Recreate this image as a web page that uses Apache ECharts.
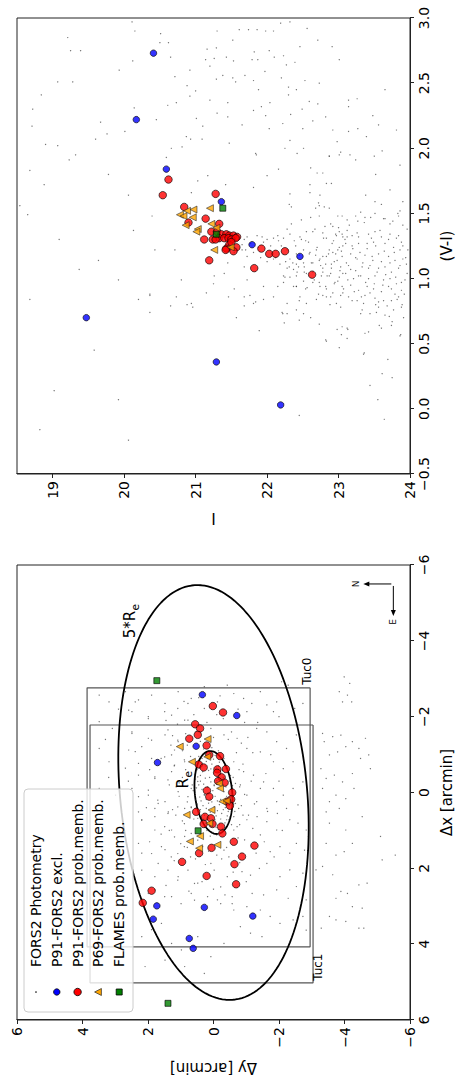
<!DOCTYPE html>
<html>
<head>
<meta charset="utf-8">
<script src="https://cdn.jsdelivr.net/npm/echarts@6.0.0/dist/echarts.min.js"></script>
<style>
  html, body { margin: 0; padding: 0; width: 459px; height: 1084px; overflow: hidden; background: #fff; }
  /* the figure is laid out landscape and turned a quarter turn counter-clockwise */
  #chart { position: absolute; left: 0; top: 0; width: 1084px; height: 459px;
           transform-origin: 0 0; transform: translateY(1084px) rotate(-90deg); }
</style>
</head>
<body>
<div id="chart"></div>
<script>
// ---------------- sky map: entries are [Δy, Δx] in arcmin ----------------
const mapPhot = [
  [-3.99,-3.05],[-4.16,-2.88],[-3.84,-2.66],[-4.09,-2.57],[-4.22,-2.39],[-3.94,-2.39],[-3.33,-1.56],[-3.38,-1.34],[-3.64,-1.47],[-3.89,-1.51],
  [-3.54,-0.99],[-3.79,-1.07],[-4.04,-1.21],[-4.24,-1.34],[-4.44,-1.16],[-4.64,-1.43],[-4.74,-0.99],[-4.49,-0.90],[-4.79,-0.63],[-3.28,-0.63],
  [-3.44,-0.37],[-3.69,-0.46],[-3.94,-0.28],[-4.24,-0.50],[-3.33,-0.11],[-3.54,0.24],[-3.74,0.07],[-4.04,0.16],[-4.29,-0.11],[-3.44,0.51],[-3.84,0.42],
  [-3.54,0.81],[-4.04,0.99],[-4.54,0.64],[-4.24,1.34],[-3.99,1.56],[-3.74,1.65],[-3.44,1.34],[-3.33,1.95],[-3.13,2.04],[-3.64,2.17],
  [-3.89,2.61],[-4.09,2.66],[-4.44,2.44],[-4.69,2.39],[-3.74,2.79],[-4.24,3.01],[-4.54,3.05],[-3.54,3.27],[-3.74,3.36],[-4.04,3.40],
  [-3.29,3.58],[-4.44,3.58],[-4.59,3.58],[-5.15,1.78],[-5.55,1.65],[-5.10,1.16],
  [-0.92,-2.48],[-1.17,-2.35],[-1.43,-2.66],[-1.63,-2.31],[-1.93,-2.39],[-2.08,-2.92],[-2.28,-2.83],[-1.83,-2.13],[-2.48,-2.22],[-2.73,-2.35],
  [-1.02,-2.13],[-1.32,-1.69],[-1.63,-1.60],[-1.93,-1.34],[-2.23,-1.16],[-2.53,-1.52],[-2.73,-0.99],[-2.43,-0.81],[-2.13,-0.63],[-1.83,-0.81],
  [-1.43,-1.07],[-1.02,-1.16],[-0.72,-1.43],[-0.62,-0.81],[-0.92,-0.55],[-1.22,-0.46],[-1.53,-0.28],[-1.83,-0.11],[-2.13,0.07],[-2.43,-0.11],
  [-2.73,-0.28],[-2.58,0.33],[-2.23,0.42],[-1.93,0.24],[-1.63,0.42],[-1.32,0.24],[-1.02,0.07],[-0.82,-0.20],[-0.77,0.42],[-1.07,0.60],[-1.43,-0.11],
  [-0.47,0.72],[-0.72,0.90],[-1.02,0.72],[-1.33,0.64],[-1.63,0.77],[-1.93,0.99],[-2.33,0.72],[-2.58,0.81],[-2.83,0.99],[-1.43,1.12],
  [-1.73,1.56],[-2.03,1.43],[-2.33,1.60],[-2.53,1.34],[-2.78,1.52],[-1.63,1.87],[-2.03,2.22],[-2.33,2.04],[-2.73,2.13],[-2.53,2.48],
  [-2.28,2.79],[-1.93,2.57],[-1.53,2.70],[-1.18,2.66],[-1.02,3.01],[-1.43,3.10],[-1.73,3.27],[-2.03,3.45],[-2.43,3.36],[-2.73,3.27],
  [-2.83,2.83],[-1.48,3.80],[-1.13,3.71],[-0.82,3.54],[-0.62,3.10],[-0.57,2.75],[-0.87,2.09],[-1.13,2.18],[-2.83,3.63],
  [3.49,-2.57],[3.19,-2.39],[2.69,-2.66],[2.39,-2.39],[1.89,-2.57],[1.48,-2.35],[1.08,-2.66],[0.68,-2.48],[0.28,-2.22],[-0.12,-2.39],
  [2.49,-2.13],[1.99,-1.95],[1.28,-2.04],[0.88,-1.91],[3.49,-1.87],[3.09,-1.69],[2.49,-1.60],[1.99,-1.43],[1.48,-1.52],[1.08,-1.34],
  [2.39,-1.08],[1.89,-0.90],[1.28,-0.99],[0.88,-0.81],[3.49,-1.16],[3.19,-0.81],[2.69,-0.64],[2.29,-0.46],[1.79,-0.37],[1.28,-0.55],
  [0.88,-0.29],[3.49,-0.11],[2.99,0.07],[2.49,-0.11],[1.99,0.07],[1.48,0.24],[1.08,-0.02],[0.68,-0.11],[0.48,-0.29],[0.28,0.07],
  [-0.02,-0.20],[-0.32,-0.90],[0.08,-1.69],[-0.32,-1.52],[1.79,0.42],[2.29,0.51],[1.38,0.51],[0.88,0.42],
  [2.29,0.11],[1.99,-0.06],[1.69,0.29],[1.39,0.55],[1.09,0.38],[2.19,0.73],[1.79,0.99],[1.49,0.90],[1.19,1.17],[2.29,1.34],
  [1.89,1.61],[1.59,1.43],[1.29,1.70],[2.19,2.05],[1.79,2.22],[1.39,2.05],[1.09,2.31],[0.78,2.05],[0.58,2.40],[1.99,2.66],
  [1.49,2.75],[0.99,2.93],[0.58,2.84],[-0.02,2.05],[-0.22,2.49],[-0.42,2.22],[0.18,2.75],[-0.22,2.93],[-0.57,2.93],[1.14,-0.15],
  [0.78,-0.19],[0.48,-0.41],[1.79,-0.41],[1.39,-0.33],[0.78,0.11],[0.68,0.38],[0.89,0.82],[0.68,1.08],[0.48,1.26],[0.33,1.43],
  [0.89,1.43],[1.09,1.61],[-0.32,1.52],[-0.47,1.70],[-0.62,0.99],[-0.62,0.64],[-0.67,0.29],[-0.67,-0.24],
  [2.59,-2.17],[2.29,-2.44],[1.99,-2.00],[1.49,-2.13],[1.09,-2.22],[0.78,-2.35],[0.28,-2.79],[-0.42,-2.83],[-0.62,-2.61],[2.49,-1.56],
  [2.19,-1.21],[1.89,-1.38],[1.39,-1.65],[1.09,-1.38],[2.59,-1.12],[1.49,-0.94],[1.19,-1.12],[0.78,-1.91],[2.29,-0.77],[1.19,-0.72],[0.89,-0.86],
  [2.19,3.80],[1.89,3.62],[1.59,3.45],[1.28,3.98],[0.98,4.15],[0.48,3.80],[0.08,4.33],[-0.32,3.98],[1.48,4.42],[0.88,4.59],[0.28,4.77],[2.09,4.59],
  [2.19,0.72],[1.79,0.64],[1.28,0.99],[0.88,1.16],[1.48,1.51],[1.08,2.22],[1.79,2.57],[1.28,2.75],[0.68,2.66],[0.48,2.39],[0.08,1.87],[-0.12,2.83],[1.69,1.87],[2.19,1.60],
  [0.45,-0.95],[0.30,-1.02],[0.12,-1.05],[-0.05,-0.98],[-0.22,-0.90],[0.38,-0.78],[0.22,-0.82],[0.05,-0.75],[-0.15,-0.70],[-0.35,-0.72],
  [0.50,-0.60],[0.33,-0.55],[0.15,-0.58],[-0.02,-0.52],[-0.20,-0.48],[-0.42,-0.55],[0.55,-0.35],[0.40,-0.30],[0.25,-0.38],[0.08,-0.28],
  [-0.10,-0.32],[-0.28,-0.22],[-0.48,-0.30],[0.52,-0.12],[0.35,-0.08],[0.18,-0.15],[0.02,-0.05],[-0.15,-0.10],[-0.32,-0.02],[-0.52,-0.08],
  [0.58,0.08],[0.42,0.12],[0.28,0.05],[0.10,0.15],[-0.05,0.10],[-0.22,0.18],[-0.40,0.10],[-0.58,0.15],[0.50,0.30],[0.32,0.35],
  [0.15,0.28],[-0.02,0.38],[-0.18,0.32],[-0.36,0.40],[-0.50,0.35],[0.45,0.55],[0.28,0.60],[0.10,0.52],[-0.08,0.62],[-0.25,0.55],
  [-0.42,0.62],[0.35,0.78],[0.18,0.82],[0.00,0.75],[-0.18,0.85],[-0.35,0.80],[0.20,1.00],[0.02,1.05],[-0.15,0.98],[0.40,-0.45],
  [-0.30,-0.40],[0.65,-0.20],[0.68,0.40],[-0.65,0.50],[-0.60,-0.40],[0.60,0.70],[-0.55,0.85],
  [1.10,-1.80],[0.85,-1.55],[1.30,-1.25],[0.95,-1.10],[1.20,-0.70],[0.95,-0.40],[1.35,-0.20],[1.05,0.10],[1.25,0.45],[0.95,0.75],
  [1.35,1.00],[1.00,1.35],[-0.95,-1.85],[-0.85,-1.30],[-1.20,-1.05],[-0.90,-0.75],[-1.15,-0.30],[-0.95,0.05],[-1.25,0.30],[-0.90,0.60],
  [-1.20,0.95],[-0.95,1.25],[-1.30,1.60],[-0.80,1.85],[0.60,-2.05],[0.20,-1.85],[-0.30,-1.95],[-0.55,-1.60],[0.70,1.70],[0.25,1.90],
  [-0.25,1.75],[-0.60,2.10],[1.60,-0.90],[1.70,0.20],[1.60,1.10],[-1.60,-0.50],[-1.65,0.50],[-1.55,1.30],
  [0.52,-0.80],[0.35,-0.90],[0.18,-0.92],[0.00,-0.88],[-0.18,-0.80],[-0.38,-0.62],[0.58,-0.48],[0.42,-0.65],[0.25,-0.70],[0.08,-0.62],
  [-0.08,-0.65],[-0.28,-0.58],[-0.52,-0.45],[0.62,-0.05],[0.45,-0.20],[0.30,-0.22],[0.12,-0.40],[-0.02,-0.18],[-0.20,-0.25],[-0.38,-0.15],
  [-0.58,-0.18],[0.55,0.20],[0.38,0.22],[0.22,0.18],[0.05,0.25],[-0.12,0.22],[-0.30,0.28],[-0.48,0.22],[-0.62,0.30],[0.55,0.42],
  [0.40,0.45],[0.22,0.42],[0.05,0.45],[-0.12,0.48],[-0.30,0.45],[-0.45,0.50],[0.48,0.68],[0.30,0.70],[0.12,0.68],[-0.05,0.72],
  [-0.22,0.70],[-0.40,0.72],[0.28,0.92],[0.10,0.90],[-0.08,0.92],[-0.28,0.95],[0.10,1.15],[-0.10,1.12],[0.30,-1.15],[0.05,-1.18],[-0.15,-1.10],
  [0.90,-2.40],[0.45,-2.50],[-0.20,-2.55],[-0.75,-2.20],[1.45,-1.90],[1.25,-1.50],[0.80,-1.25],[0.70,-0.95],[0.85,-0.60],[1.05,-0.25],
  [0.80,0.25],[1.15,0.60],[0.85,1.00],[0.80,1.45],[1.20,1.80],[0.55,1.75],[0.15,1.55],[-0.10,1.65],[-0.40,1.45],[-0.75,1.20],
  [-0.80,0.85],[-0.85,0.35],[-0.80,-0.15],[-0.78,-0.60],[-0.70,-1.05],[-1.05,-1.45],[-0.45,-1.40],[0.00,-1.45],[0.40,-1.35],[0.55,-1.60],
  [-0.10,-2.05],[0.35,2.35],[0.00,2.55],[-0.35,2.70],[0.75,2.60],[1.45,2.45],[-1.00,2.35],[-1.40,2.00],[-1.85,1.70],[-2.10,1.00],
  [-1.95,0.55],[-2.00,-0.30],[-1.75,-1.00],[-1.35,-1.85],[-2.00,-2.00],[1.95,-0.60],[2.05,0.40],[1.95,1.30],[2.60,-0.30],[2.80,0.60],
  [3.20,-0.40],[3.30,-1.40],[2.90,-2.20]
];
const mapExcl = [[0.34,-2.58],[-0.71,-2.03],[0.53,-1.22],[1.71,-0.79],[1.73,2.99],[1.84,3.34],[0.28,3.03],[0.74,3.85],[0.62,4.11],[-1.20,3.26]];
const mapP91 = [
  [0.02,-2.28],[-0.29,-2.11],[0.56,-1.80],[0.41,-1.69],[0.74,-1.42],[0.48,-1.52],[0.21,-1.24],[-0.20,-0.96],[0.13,-0.99],[0.45,-0.74],
  [0.30,-0.66],[-0.12,-0.61],[-0.38,-0.62],[-0.11,-0.52],[-0.25,-0.40],[-0.14,-0.30],[-0.34,-0.26],[0.20,-0.05],[0.13,0.11],[-0.57,0.00],
  [-0.54,0.18],[-0.42,0.24],[-0.50,0.35],[0.53,0.51],[0.26,0.64],[0.08,0.68],[0.30,0.83],[0.03,0.83],[-0.23,0.90],[-0.27,1.08],
  [-0.62,1.30],[0.06,1.46],[0.44,1.60],[0.96,1.83],[-0.64,1.89],[0.21,2.20],[-0.69,2.42],[1.89,2.59],[2.16,2.91],[-1.25,1.40],[-0.87,1.69]
];
const mapP69 = [[0.18,-1.41],[1.03,-1.21],[0.66,-0.81],[0.19,-0.94],[-0.17,-0.24],[-0.20,-0.11],[-0.27,0.24],[-0.40,0.22],[0.06,0.46],[0.82,0.59],[0.13,0.81],[0.41,1.15],[0.72,1.29],[-0.12,1.38],[0.44,1.47]];
const mapFlames = [[1.73,-2.95],[0.47,1.01],[1.39,5.56]];

// FORS2 pointings (Δx and Δy extents, arcmin)
const fieldNames = ['Tuc0', 'Tuc1'];
const fieldDx = [[-2.76, 4.07], [-1.78, 5.02]];
const fieldDy = [[-2.95, 3.86], [-3.04, 3.77]];

// half-light ellipse: semi-major, semi-minor (arcmin), tilt of major axis from Δx toward Δy (deg)
const reEllipse = [1.1, 0.57, -7];
const reMultiples = [1, 5];

// ---------------- colour-magnitude diagram: entries are [I, V-I] ----------------
const cmdPhot = [
  [20.11,2.97],[20.15,2.90],[20.51,2.88],[20.50,2.81],[20.62,2.81],[19.21,2.85],[19.25,2.75],[19.39,2.75],[20.12,2.67],[20.65,2.70],
  [19.93,2.60],[20.71,2.55],[20.92,2.60],[21.20,2.63],[21.16,2.76],[21.29,2.77],[21.30,2.90],[21.52,2.83],[21.61,2.91],[21.74,2.91],
  [21.86,2.91],[21.98,2.90],[22.09,2.90],[22.19,2.96],[22.32,2.97],[22.56,2.92],[22.71,2.83],[22.91,2.78],[22.46,2.78],[21.82,2.74],
  [22.03,2.75],[22.23,2.71],[22.39,2.66],[22.27,2.64],[22.10,2.70],[21.87,2.68],[21.79,2.68],[21.53,2.67],[21.43,2.70],[21.26,2.69],
  [21.14,2.68],[20.88,2.48],[20.92,2.40],[21.00,2.44],[21.29,2.53],[21.38,2.56],[21.52,2.54],[21.56,2.51],[21.69,2.56],[21.81,2.52],
  [21.88,2.45],[21.97,2.59],[22.20,2.54],[22.30,2.47],[22.53,2.52],[22.73,2.50],[23.01,2.68],[23.65,2.45],[23.26,2.38],[23.14,2.37],
  [23.14,2.32],[22.59,2.36],[22.71,2.34],[22.49,2.30],[22.41,2.45],[22.30,2.41],[22.04,2.35],[21.92,2.32],[21.45,2.35],[21.20,2.37],
  [21.01,2.23],[21.10,2.17],[21.30,2.27],[21.45,2.24],[21.65,2.18],[21.81,2.29],[21.98,2.25],[22.22,2.19],[22.33,2.26],[22.50,2.15],
  [22.64,2.21],[22.82,2.24],[22.92,2.14],[23.14,2.13],[23.27,2.15],[23.48,2.25],[23.56,2.18],[23.81,2.14],[23.39,2.09],[23.61,1.98],
  [23.50,1.94],[23.16,1.95],[22.98,2.05],[23.01,1.95],[22.87,1.94],[22.51,2.00],[22.32,2.06],[22.25,2.00],[22.03,2.15],[21.85,1.95],
  [21.47,2.04],[21.09,2.07],[20.93,2.07],[20.87,2.09],[20.81,2.01],[20.66,2.00],[20.45,2.22],[20.14,2.31],[19.76,2.11],[20.01,2.13],
  [19.67,2.20],[19.60,2.07],[19.32,1.95],[19.07,2.02],[18.90,2.03],[18.71,2.17],[18.72,2.30],[18.84,2.41],[19.07,2.51],[19.28,2.51],
  [20.73,2.35],[20.61,2.33],
  [20.59,1.93],[21.84,1.96],[22.42,1.96],[22.87,1.94],[23.03,1.97],[22.61,1.85],[22.70,1.81],[22.78,1.81],[22.90,1.73],[22.83,1.73],
  [22.74,1.64],[22.72,1.58],[22.60,1.66],[22.32,1.65],[22.34,1.55],[22.28,1.38],[22.68,1.54],[22.87,1.54],[22.99,1.48],[22.92,1.40],
  [23.01,1.36],[23.06,1.32],[22.83,1.31],[22.78,1.35],[22.67,1.38],[22.55,1.36],[22.46,1.32],[22.40,1.25],[22.32,1.34],[22.23,1.31],
  [22.16,1.29],[22.09,1.31],[22.00,1.30],[21.93,1.32],[21.86,1.33],[21.72,1.32],[21.68,1.30],[21.65,1.26],[21.65,1.22],[21.54,1.20],
  [21.72,1.17],[21.81,1.20],[21.91,1.16],[22.00,1.13],[22.09,1.15],[22.18,1.11],[22.28,1.08],[22.37,1.07],[22.44,1.09],[22.51,1.12],
  [22.55,1.04],[22.64,1.12],[22.74,1.15],[22.83,1.17],[22.92,1.20],[22.99,1.22],[23.06,1.25],[22.69,1.22],[22.60,1.20],[22.51,1.22],
  [22.32,1.15],[22.23,1.02],[22.32,1.01],[22.51,0.98],[22.64,0.97],[22.74,0.94],[22.83,0.92],[22.92,0.89],[22.99,0.98],[23.06,1.04],
  [22.87,1.02],[22.76,1.02],[22.90,1.11],[22.78,1.08],[22.37,0.94],[22.23,0.97],[21.95,0.94],[21.72,0.99],[21.68,1.09],[21.45,1.12],
  [21.40,1.04],[21.54,0.92],[21.68,0.86],[21.81,0.81],[21.95,0.84],[22.09,0.86],[22.28,0.81],[22.46,0.86],[22.55,0.81],[22.69,0.84],
  [22.83,0.86],[22.97,0.81],[23.06,0.89],[20.94,1.66],[21.03,1.75],[21.17,1.79],[21.42,1.72],[21.81,1.70],[22.00,1.79],[22.16,1.84],
  [22.60,1.72],[20.43,1.22],[20.39,1.48],[20.71,1.22],[20.80,0.99],[20.94,0.81],[21.15,0.89],[21.26,1.02],[20.36,0.88],
  [22.31,1.57],[22.73,1.56],[22.80,1.55],[23.51,1.59],[23.60,1.57],[23.86,1.52],[23.90,1.59],[22.34,1.42],[22.48,1.45],[22.61,1.47],
  [22.73,1.48],[22.89,1.42],[23.05,1.48],[23.12,1.45],[23.24,1.48],[23.31,1.51],[23.37,1.47],[23.51,1.50],[23.65,1.46],[23.72,1.42],
  [23.84,1.48],[23.90,1.41],[22.96,1.34],[23.05,1.34],[23.12,1.32],[23.19,1.33],[23.28,1.32],[23.42,1.34],[23.51,1.36],[23.60,1.32],
  [23.72,1.34],[23.81,1.31],[23.88,1.28],[22.91,1.27],[23.01,1.24],[23.10,1.27],[23.19,1.25],[23.28,1.27],[23.40,1.27],[23.49,1.28],
  [23.65,1.27],[23.77,1.24],[23.86,1.22],[22.59,1.19],[22.68,1.18],[22.78,1.17],[22.87,1.22],[22.96,1.19],[23.05,1.17],[23.17,1.19],
  [23.26,1.15],[23.37,1.18],[23.47,1.17],[23.56,1.19],[23.70,1.17],[23.79,1.14],[23.90,1.15],[22.31,1.09],[22.41,1.11],[22.52,1.09],
  [22.73,1.14],[22.82,1.11],[22.94,1.13],[23.03,1.09],[23.14,1.10],[23.24,1.06],[23.33,1.09],[23.44,1.10],[23.56,1.08],[23.65,1.09],
  [23.74,1.05],[23.84,1.08],[23.95,1.11],[22.25,1.01],[22.41,1.02],[22.64,1.05],[22.78,1.05],[22.89,1.04],[23.01,1.01],[23.10,1.04],
  [23.21,1.00],[23.31,1.02],[23.42,1.00],[23.51,1.02],[23.63,0.99],[23.72,1.00],[23.81,0.96],[23.93,0.99],[22.73,0.97],[22.82,0.94],
  [22.94,0.96],[23.05,0.94],[23.17,0.95],[23.28,0.91],[23.40,0.94],[23.49,0.92],[23.60,0.90],[23.70,0.94],[23.79,0.88],[23.88,0.91],
  [22.41,0.94],[22.54,0.92],[22.78,0.87],[22.89,0.86],[23.03,0.87],[23.14,0.86],[23.26,0.83],[23.37,0.87],[23.51,0.85],[23.63,0.83],
  [23.74,0.83],[23.84,0.86],[23.33,0.76],[23.44,0.73],[23.56,0.78],[23.65,0.72],[23.77,0.76],[23.88,0.78],[22.45,0.83],[22.41,0.76],
  [22.22,0.73],[22.61,0.70],[22.73,0.65],[23.05,0.63],[23.12,0.62],[22.82,0.53],[23.01,0.47],[23.37,0.58],[23.60,0.62],[23.74,0.64],
  [23.86,0.56],[23.35,0.42],[22.41,1.19],[22.22,1.19],[22.38,1.29],[22.54,1.29],[23.97,1.22],[23.96,1.04],
  [20.36,0.87],[20.36,0.74],[20.73,0.86],[20.65,0.79],[20.88,0.80],[20.96,0.78],[21.25,0.96],[21.46,0.86],[21.57,0.70],[21.68,0.79],
  [21.76,0.87],[21.84,0.82],[21.89,0.60],[22.15,0.94],[22.21,0.74],[22.24,0.66],[22.28,0.73],[22.41,0.94],[22.45,0.68],[22.51,0.73],
  [22.83,0.52],[22.98,0.61],[23.04,0.57],[23.12,0.54],[23.13,0.61],[23.36,0.43],[23.42,0.59],[23.44,0.18],[23.55,0.07],[23.61,0.27],
  [23.64,-0.08],[23.69,0.38],[23.75,0.24],[23.87,0.57],[22.45,-0.05],[23.31,0.73],[23.52,0.80],[23.57,0.64],[23.75,0.67],[23.89,0.80],
  [18.54,1.56],[18.65,1.49],[18.88,1.72],[19.09,1.30],[19.37,1.07],[18.68,0.84],[19.64,1.14],[19.92,0.99],[20.13,1.37],[20.20,0.84],
  [19.58,0.45],[19.02,0.14],[19.92,0.07],[18.82,-0.16],[20.06,-0.24],[18.68,1.83],[19.23,1.91],[19.78,1.80],[20.06,1.64],
  [23.24,1.91],[23.52,1.80],[23.72,1.68],[23.86,1.87],[23.38,1.64],
  [22.45,1.18],[22.52,1.05],[22.58,1.28],[22.62,1.12],[22.66,0.99],[22.70,1.24],[22.75,1.10],[22.79,1.31],[22.84,1.02],[22.86,1.19],
  [22.90,1.08],[22.93,1.29],[22.95,0.97],[22.98,1.14],[23.00,1.39],[23.02,1.06],[23.04,1.21],[23.07,0.92],[23.09,1.30],[23.11,1.12],
  [23.13,0.99],[23.15,1.41],[23.17,1.07],[23.20,1.23],[23.22,0.90],[23.24,1.16],[23.26,1.35],[23.28,1.02],[23.30,1.20],[23.32,0.86],
  [23.34,1.12],[23.36,1.43],[23.38,0.97],[23.40,1.23],[23.42,1.08],[23.44,0.89],[23.46,1.31],[23.48,1.14],[23.50,0.96],[23.52,1.25],
  [23.54,1.05],[23.56,0.82],[23.58,1.37],[23.60,1.13],[23.62,0.95],[23.64,1.21],[23.66,1.03],[23.68,0.79],[23.70,1.30],[23.72,1.12],
  [23.74,0.92],[23.76,1.44],[23.78,1.20],[23.80,1.01],[23.82,0.84],[23.84,1.33],[23.86,1.10],[23.88,0.97],[23.90,1.25],[23.92,0.88],
  [23.94,1.16],[23.96,1.38],[22.48,1.30],[22.56,0.93],[22.64,1.36],[22.72,0.88],[22.81,1.40],[22.88,0.80],[22.97,1.33],[23.03,0.78],
  [23.12,1.37],[23.19,0.83],[23.27,1.44],[23.35,0.81],[23.45,1.47],[23.53,0.74],[23.63,1.46],[23.71,0.71],[23.83,1.50],[23.91,0.70],
  [22.20,1.25],[22.28,1.22],[22.36,1.12],[22.42,1.05],[22.15,1.33],[22.05,1.25],[21.95,1.28],[21.88,1.24],[21.77,1.27],[21.70,1.22],
  [22.12,1.16],[22.26,1.13]
];
const cmdExcl = [[20.41,2.73],[20.17,2.22],[20.59,1.84],[21.36,1.59],[21.79,1.26],[22.46,1.17],[19.47,0.70],[21.29,0.36],[22.19,0.03]];
const cmdP91 = [
  [20.62,1.76],[20.54,1.64],[21.28,1.65],[20.84,1.55],[20.90,1.43],[21.14,1.46],[21.33,1.42],[21.22,1.36],[21.30,1.36],[21.36,1.34],
  [21.43,1.34],[21.47,1.33],[21.53,1.33],[21.58,1.32],[21.33,1.31],[21.40,1.31],[21.46,1.31],[21.24,1.30],[21.12,1.30],[21.28,1.30],
  [21.50,1.30],[21.56,1.31],[21.47,1.26],[21.50,1.28],[21.43,1.23],[21.57,1.24],[21.42,1.22],[21.53,1.21],[21.92,1.23],[22.03,1.19],
  [22.12,1.19],[22.25,1.21],[21.19,1.14],[21.82,1.08],[22.63,1.03]
];
const cmdP69 = [[20.78,1.49],[20.88,1.52],[20.97,1.53],[20.83,1.48],[20.96,1.47],[20.86,1.41],[21.03,1.38],[21.01,1.36],[21.20,1.54],[21.22,1.42],[21.29,1.39],[21.26,1.22],[21.49,1.24]];
const cmdFlames = [[21.38,1.54],[21.29,1.34]];

// tick values
const offsetTicks = [-6, -4, -2, 0, 2, 4, 6];
const colourTicks = [-0.5, 0, 0.5, 1, 1.5, 2, 2.5, 3];
const magTicks = [19, 20, 21, 22, 23, 24];

const seriesNames = ['FORS2 Photometry', 'P91-FORS2 excl.', 'P91-FORS2 prob.memb.', 'P69-FORS2 prob.memb.', 'FLAMES prob.memb.'];

// ------------------------------------------------------------------
const FONT = 'DejaVu Sans';
const INK = '#222';
const uminus = s => String(s).replace('-', '\u2212');

function ellipsePoints(a, b, tiltDeg, n) {
  const th = tiltDeg * Math.PI / 180;
  const pts = [];
  for (let i = 0; i <= n; i++) {
    const t = 2 * Math.PI * i / n;
    const dx = a * Math.cos(t) * Math.cos(th) - b * Math.sin(t) * Math.sin(th);
    const dy = a * Math.cos(t) * Math.sin(th) + b * Math.sin(t) * Math.cos(th);
    pts.push([dy, dx]);
  }
  return pts;
}

const styles = [
  { symbol: 'circle', symbolSize: 1.3, itemStyle: { color: '#333', opacity: 0.7 } },
  { symbol: 'circle', symbolSize: 6.5, itemStyle: { color: '#0000ff', borderColor: '#000', borderWidth: 0.8 } },
  { symbol: 'circle', symbolSize: 7.5, itemStyle: { color: '#ff0000', borderColor: '#000', borderWidth: 0.8 } },
  { symbol: 'triangle', symbolSize: 7, itemStyle: { color: '#ffa500', borderColor: '#222', borderWidth: 0.7 } },
  { symbol: 'rect', symbolSize: 6, itemStyle: { color: '#008000', borderColor: '#000', borderWidth: 0.8 } }
];

function scatter(idx, data, grid) {
  return Object.assign({
    type: 'scatter', name: seriesNames[idx], data: data,
    xAxisIndex: grid, yAxisIndex: grid, encode: { x: 1, y: 0 },
    silent: true, z: 3 + idx
  }, styles[idx]);
}

const axisBase = {
  type: 'value',
  axisLine: { onZero: false, lineStyle: { color: INK, width: 1 } },
  axisTick: { show: true, inside: false, length: 4, lineStyle: { color: INK, width: 1 } },
  axisLabel: { color: '#000', fontFamily: FONT, fontSize: 14, margin: 7 },
  splitLine: { show: false },
  nameLocation: 'middle',
  nameTextStyle: { color: '#000', fontFamily: FONT, fontSize: 15 }
};
const ax = o => Object.assign({}, axisBase, o, {
  axisLabel: Object.assign({}, axisBase.axisLabel, o.axisLabel || {}),
  axisTick: Object.assign({}, axisBase.axisTick, o.axisTick || {})
});

const series = [];
fieldNames.forEach((nm, k) => {
  const [x0, x1] = fieldDx[k], [y0, y1] = fieldDy[k];
  series.push({
    type: 'line', name: nm, xAxisIndex: 0, yAxisIndex: 0, encode: { x: 1, y: 0 },
    data: [[y0, x0], [y0, x1], [y1, x1], [y1, x0], [y0, x0]],
    symbol: 'none', silent: true, z: 2, lineStyle: { color: '#555', width: 1.2 }
  });
});
reMultiples.forEach(m => {
  series.push({
    type: 'line', name: m + ' Re', xAxisIndex: 0, yAxisIndex: 0, encode: { x: 1, y: 0 },
    data: ellipsePoints(m * reEllipse[0], m * reEllipse[1], reEllipse[2], 180),
    symbol: 'none', silent: true, z: 2, lineStyle: { color: '#000', width: 1.8 }
  });
});
[mapPhot, mapExcl, mapP91, mapP69, mapFlames].forEach((d, i) => series.push(scatter(i, d, 0)));
[cmdPhot, cmdExcl, cmdP91, cmdP69, cmdFlames].forEach((d, i) => series.push(scatter(i, d, 1)));

const chart = echarts.init(document.getElementById('chart'), null, { renderer: 'svg', width: 1084, height: 459 });

chart.setOption({
  animation: false,
  backgroundColor: '#fff',
  grid: [
    { left: 64, top: 17, width: 455, height: 398, show: true, borderColor: INK, borderWidth: 1 },
    { left: 610, top: 17, width: 456, height: 398, show: true, borderColor: INK, borderWidth: 1 }
  ],
  xAxis: [
    ax({ gridIndex: 0, min: -6, max: 6, interval: 2, inverse: true, name: 'Δx [arcmin]', nameGap: 29,
         axisLabel: { formatter: v => uminus(v) } }),
    ax({ gridIndex: 1, min: -0.5, max: 3.0, interval: 0.5, name: '(V-I)', nameGap: 29,
         axisLabel: { formatter: v => uminus(v.toFixed(1)) } })
  ],
  yAxis: [
    ax({ gridIndex: 0, min: -6, max: 6, interval: 2, name: 'Δy [arcmin]', nameGap: 40, nameRotate: 90,
         axisLabel: { formatter: v => uminus(v) } }),
    ax({ gridIndex: 1, min: 18.5, max: 24, inverse: true, name: 'I', nameGap: 36, nameRotate: 90,
         axisLabel: { customValues: magTicks, formatter: v => String(v) },
         axisTick: { customValues: magTicks } })
  ],
  series: series
});

// annotations placed from data coordinates of the sky map
const px = (dx, dy) => chart.convertToPixel({ gridIndex: 0 }, [dx, dy]);
const txt = (x, y, text, size, align, valign, extra) => Object.assign({
  type: 'text', x: x, y: y, z: 100, silent: true,
  style: { text: text, fill: '#000', font: size + 'px "' + FONT + '"', align: align, verticalAlign: valign }
}, extra || {});

const g = [];
// labels of the ellipses
const p5 = px(-4.79, 2.56);
g.push(txt(p5[0], p5[1], '5*R', 15, 'right', 'middle'));
g.push(txt(p5[0] + 0.5, p5[1] + 5, 'e', 10.5, 'left', 'middle'));
const p1 = px(-0.38, 0.93);
g.push(txt(p1[0], p1[1], 'R', 15, 'right', 'middle'));
g.push(txt(p1[0] + 0.5, p1[1] + 5, 'e', 10.5, 'left', 'middle'));
// field names
const t0 = px(fieldDx[0][0], fieldDy[0][0]);
g.push(txt(t0[0] + 3, t0[1] + 3, fieldNames[0], 12, 'left', 'bottom'));
const t1 = px(fieldDx[1][1], fieldDy[1][0]);
g.push(txt(t1[0] + 2, t1[1] - 1, fieldNames[1], 12, 'left', 'top'));
// compass
const c = px(-5.5, -5.43);
const ln = (x1, y1, x2, y2) => ({ type: 'line', z: 100, silent: true, shape: { x1, y1, x2, y2 }, style: { stroke: '#000', lineWidth: 1 } });
const head = pts => ({ type: 'polygon', z: 100, silent: true, shape: { points: pts }, style: { fill: '#000' } });
g.push(ln(c[0], c[1], c[0], c[1] - 25));
g.push(head([[c[0], c[1] - 28], [c[0] - 2.5, c[1] - 22], [c[0] + 2.5, c[1] - 22]]));
g.push(txt(c[0], c[1] - 31, 'N', 9, 'center', 'bottom'));
g.push(ln(c[0] - 2, c[1] + 2, c[0] - 29, c[1] + 2));
g.push(head([[c[0] - 32, c[1] + 2], [c[0] - 26, c[1] - 0.5], [c[0] - 26, c[1] + 4.5]]));
g.push(txt(c[0] - 35, c[1] + 2, 'E', 9, 'right', 'middle'));

// legend box
const lgX = 72, lgY = 24, lgRow = 20.8, mkX = 92, txX = 117;
g.push({ type: 'rect', z: 99, silent: true, shape: { x: lgX, y: lgY, width: 223, height: 109, r: 4 },
         style: { fill: 'rgba(255,255,255,0.8)', stroke: '#cccccc', lineWidth: 1 } });
const rowY = i => 36 + i * lgRow;
g.push({ type: 'circle', z: 101, silent: true, shape: { cx: mkX, cy: rowY(0), r: 0.8 }, style: { fill: '#333' } });
g.push({ type: 'circle', z: 101, silent: true, shape: { cx: mkX, cy: rowY(1), r: 3.2 }, style: { fill: '#0000ff', stroke: '#000', lineWidth: 0.8 } });
g.push({ type: 'circle', z: 101, silent: true, shape: { cx: mkX, cy: rowY(2), r: 3.7 }, style: { fill: '#ff0000', stroke: '#000', lineWidth: 0.8 } });
g.push({ type: 'polygon', z: 101, silent: true, shape: { points: [[mkX, rowY(3) - 3.8], [mkX - 3.5, rowY(3) + 3], [mkX + 3.5, rowY(3) + 3]] },
         style: { fill: '#ffa500', stroke: '#222', lineWidth: 0.7 } });
g.push({ type: 'rect', z: 101, silent: true, shape: { x: mkX - 3, y: rowY(4) - 3, width: 6, height: 6 }, style: { fill: '#008000', stroke: '#000', lineWidth: 0.8 } });
seriesNames.forEach((nm, i) => g.push(txt(txX, rowY(i), nm, 14, 'left', 'middle', { z: 101 })));

chart.setOption({ graphic: g });
</script>
</body>
</html>
